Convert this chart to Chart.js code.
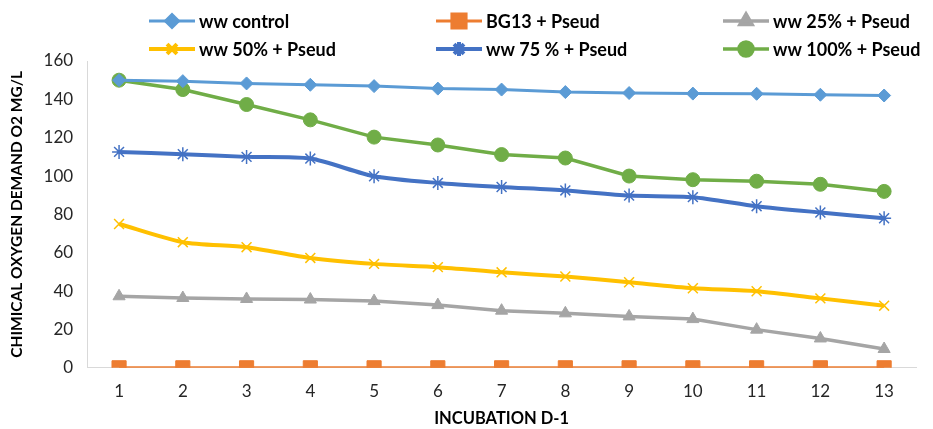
<!DOCTYPE html>
<html>
<head>
<meta charset="utf-8">
<script src="https://cdn.jsdelivr.net/npm/chart.js@4"></script>
<style>
  html, body { margin: 0; padding: 0; background: #fff; }
  #wrap { width: 933px; height: 429px; }
</style>
</head>
<body>
<div id="wrap"><canvas id="codChart"></canvas></div>
<script>
// incubation days
const days = ["1", "2", "3", "4", "5", "6", "7", "8", "9", "10", "11", "12", "13"];

// COD values (mg/L)
const wwControl = [150, 149.5, 148.3, 147.6, 146.9, 145.6, 145.1, 143.8, 143.3, 143, 142.9, 142.4, 142];
const bg13Pseud = [0, 0, 0, 0, 0, 0, 0, 0, 0, 0, 0, 0, 0];
const ww25Pseud = [37.3, 36.4, 35.9, 35.6, 34.8, 32.7, 29.8, 28.4, 26.8, 25.4, 19.9, 15.3, 9.8];
const ww50Pseud = [75, 65.5, 62.9, 57.3, 54.2, 52.5, 49.8, 47.6, 44.6, 41.5, 39.9, 36.2, 32.4];
const ww75Pseud = [112.6, 111.4, 110, 109.1, 99.9, 96.4, 94.3, 92.5, 89.8, 89, 84.3, 81, 78];
const ww100Pseud = [150, 145.1, 137.3, 129.3, 120.3, 116.2, 111.2, 109.4, 100, 98.1, 97.3, 95.7, 92];

const yTicks = [0, 20, 40, 60, 80, 100, 120, 140, 160];

const FONT = "Lato, 'Open Sans', sans-serif";
const NARROW = "'Liberation Sans Narrow', Lato, sans-serif";

// legend drawn as a 3 x 2 grid, like the original
const gridLegend = {
    id: "gridLegend",
    afterDraw(chart) {
        const ctx = chart.ctx;
        ctx.save();
        chart.data.datasets.forEach((ds, i) => {
            const col = i % 3;
            const row = Math.floor(i / 3);
            const x = 149 + col * 287;
            const y = 21 + row * 28;

            ctx.strokeStyle = ds.borderColor;
            ctx.lineWidth = ds.borderWidth;
            ctx.beginPath();
            ctx.moveTo(x, y);
            ctx.lineTo(x + 46, y);
            ctx.stroke();

            ctx.fillStyle = ds.pointBackgroundColor;
            ctx.strokeStyle = ds.pointBorderColor;
            Chart.helpers.drawPoint(ctx, {
                pointStyle: ds.pointStyle,
                radius: ds.pointRadius,
                rotation: 0,
                borderWidth: ds.pointBorderWidth
            }, x + 23, y);

            ctx.fillStyle = "#000";
            ctx.font = "bold 18px " + FONT;
            ctx.textBaseline = "middle";
            ctx.textAlign = "left";
            ctx.fillText(ds.label, x + 50, y + 1);
        });
        ctx.restore();
    }
};

function series(label, data, color, style, radius, width, tension) {
    const filled = style !== "crossRot" && style !== "star";
    return {
        label: label,
        data: data,
        borderColor: color,
        borderWidth: width,
        pointStyle: style,
        pointRadius: radius,
        pointHoverRadius: radius,
        pointBackgroundColor: filled ? color : "rgba(0,0,0,0)",
        pointBorderColor: color,
        pointBorderWidth: filled ? 1 : 1.5,
        tension: tension,
        fill: false
    };
}

const ctx = document.getElementById("codChart").getContext("2d");
const codChart = new Chart(ctx, {
    type: "line",
    data: {
        labels: days,
        datasets: [
            series("ww control", wwControl, "#5B9BD5", "rectRot", 6.5, 3, 0),
            series("BG13 + Pseud", bg13Pseud, "#ED7D31", "rect", 10, 3, 0),
            series("ww 25% + Pseud", ww25Pseud, "#A5A5A5", "triangle", 7, 3.5, 0),
            series("ww 50% + Pseud", ww50Pseud, "#FFC000", "crossRot", 7, 4, 0.25),
            series("ww 75 % + Pseud", ww75Pseud, "#4472C4", "star", 7, 4, 0.25),
            series("ww 100% + Pseud", ww100Pseud, "#70AD47", "circle", 7, 3.5, 0)
        ]
    },
    options: {
        responsive: true,
        maintainAspectRatio: false,
        animation: false,
        layout: {
            padding: { top: 61, right: 17, bottom: 0, left: 8 }
        },
        scales: {
            x: {
                offset: true,
                grid: { display: false, drawTicks: false },
                border: { color: "#d9d9d9", width: 1 },
                ticks: {
                    color: "#262626",
                    padding: 14,
                    font: { family: FONT, size: 17 }
                },
                title: {
                    display: true,
                    text: "INCUBATION D-1",
                    color: "#000",
                    padding: { top: -7, bottom: 0 },
                    font: { family: NARROW, size: 16.5, weight: "bold" }
                }
            },
            y: {
                min: 0,
                max: 160,
                afterBuildTicks: axis => {
                    axis.ticks = yTicks.map(v => ({ value: v }));
                },
                grid: { display: false, drawTicks: false },
                border: { color: "#d9d9d9", width: 1 },
                ticks: {
                    color: "#262626",
                    padding: 14,
                    font: { family: FONT, size: 17 }
                },
                title: {
                    display: true,
                    text: "CHIMICAL OXYGEN DEMAND O2 MG/L",
                    color: "#000",
                    padding: { top: 0, bottom: 3 },
                    font: { family: NARROW, size: 15.5, weight: "bold" }
                }
            }
        },
        plugins: {
            legend: { display: false },
            tooltip: { enabled: false }
        }
    },
    plugins: [gridLegend]
});
</script>
</body>
</html>
